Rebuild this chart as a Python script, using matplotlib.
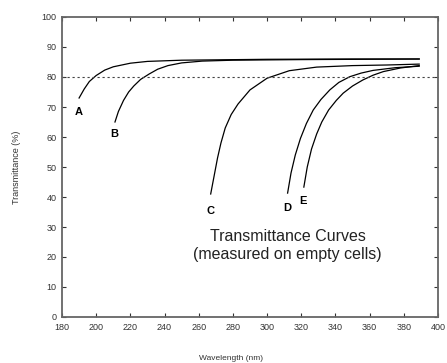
import matplotlib
matplotlib.use("Agg")
import matplotlib.pyplot as plt

plt.rcParams['font.family'] = ['Liberation Sans', 'DejaVu Sans']

# wavelength (nm) / transmittance (%) points
a_wl = [190, 193, 196, 200, 205, 210, 220, 230, 250, 300, 350, 389]
a_t = [73, 76, 78.5, 80.5, 82.3, 83.4, 84.6, 85.2, 85.6, 85.9, 86.0, 86.0]

b_wl = [211, 213, 216, 219, 222, 226, 231, 236, 242, 250, 262, 280, 320, 389]
b_t = [65, 68.5, 72.2, 75, 77, 79.2, 81, 82.6, 83.8, 84.7, 85.3, 85.6, 85.8, 86.0]

c_wl = [267, 269, 271, 273, 275.5, 279, 283, 290, 300, 313, 329, 350, 370, 389]
c_t = [41, 47, 53, 58, 63, 67.5, 71, 75.7, 79.6, 82.1, 83.3, 83.8, 84.0, 84.3]

d_wl = [312, 314, 316.5, 319.5, 323, 327, 331.5, 336.7, 342, 348.4, 355, 362, 375, 389]
d_t = [41.3, 48, 54, 59.5, 64.5, 69, 72.5, 75.7, 78.2, 80.1, 81.3, 82.2, 83.1, 83.6]

e_wl = [321.5, 323.5, 326, 329, 332, 336, 340.5, 344.5, 350, 356, 362, 368, 378, 389]
e_t = [43.3, 50, 56, 61, 65, 69, 72.2, 74.6, 77, 79, 80.6, 81.8, 83, 83.8]

curves = [(a_wl, a_t), (b_wl, b_t), (c_wl, c_t), (d_wl, d_t), (e_wl, e_t)]

letters = ['A', 'B', 'C', 'D', 'E']
letter_x = [190, 210.4, 266.6, 311.6, 321]
letter_y = [68.3, 61, 35.3, 36.3, 38.7]

ref_level = 80

fig = plt.figure(figsize=(4.47, 3.63), dpi=100)
ax = fig.add_axes([62 / 447, 1 - 317 / 363, 376 / 447, 300 / 363])

for wl, t in curves:
    ax.plot(wl, t, color='black', linewidth=0.9)

ax.axhline(ref_level, color='#444444', linestyle=(0, (2, 2.5)), linewidth=0.8)

for lab, x, y in zip(letters, letter_x, letter_y):
    ax.text(x, y, lab, ha='center', va='center', fontsize=8, fontweight='bold')

ax.text(312, 24, 'Transmittance Curves\n(measured on empty cells)',
        ha='center', va='center', fontsize=11.5, color='#222222',
        linespacing=1.25)

ax.set_xlim(180, 400)
ax.set_ylim(0, 100)
ax.set_xticks(range(180, 401, 20))
ax.set_yticks(range(0, 101, 10))
ax.tick_params(direction='in', length=3, width=0.8, top=True, right=True,
               labelsize=6.5, colors='#333333', pad=4)
for s in ax.spines.values():
    s.set_color('#666666')
    s.set_linewidth(1.3)

ax.set_xlabel('Wavelength (nm)', fontsize=6, color='#333333')
ax.xaxis.set_label_coords(0.45, -0.125)
ax.set_ylabel('Transmittance (%)', fontsize=6.5, color='#333333')
ax.yaxis.set_label_coords(-0.11, 0.5)

fig.savefig('out.png', dpi=100)
